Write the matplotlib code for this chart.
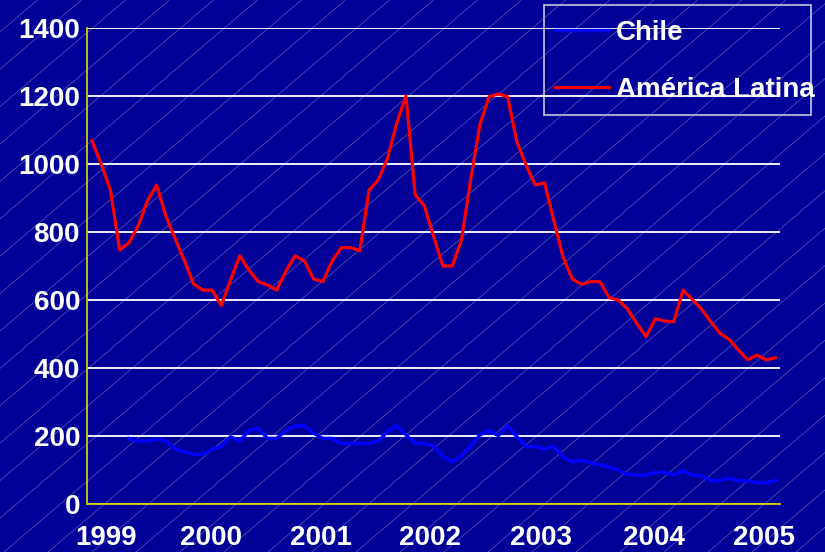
import numpy as np
import matplotlib
matplotlib.use('Agg')
import matplotlib.pyplot as plt
from matplotlib.patches import Rectangle

# monthly values, starting early 1999
america_latina = [1068, 1000, 923, 747, 768, 818, 891, 938, 847, 781,
                  716, 647, 629, 629, 584, 658, 730, 688, 654, 644,
                  629, 685, 730, 715, 662, 654, 715, 754, 754, 745,
                  923, 953, 1017, 1120, 1200, 909, 876, 786, 700, 700,
                  776, 953, 1115, 1198, 1206, 1198, 1066, 997, 938, 945,
                  835, 727, 662, 646, 654, 654, 607, 600, 573, 531,
                  492, 545, 538, 536, 629, 602, 573, 536, 502, 484,
                  453, 424, 438, 424, 430]
chile = [np.nan] * 4 + [193, 185, 185, 191, 185, 162, 154, 146, 146, 161,
                        169, 198, 185, 216, 223, 193, 193, 216, 230, 230,
                        208, 193, 193, 178, 178, 178, 178, 185, 213, 230,
                        203, 178, 178, 171, 139, 124, 141, 171, 203, 216,
                        201, 230, 198, 169, 169, 162, 169, 139, 124, 129,
                        121, 115, 108, 100, 87, 85, 85, 93, 93, 85,
                        98, 85, 83, 69, 69, 76, 69, 68, 63, 63, 69]
years = ['1999', '2000', '2001', '2002', '2003', '2004', '2005']
year_pos = [1.5, 12.9, 24.8, 36.6, 48.6, 60.8, 72.8]

bg = '#000099'
plt.rcParams['font.family'] = ['Liberation Sans', 'DejaVu Sans']
plt.rcParams['font.weight'] = 'bold'

fig = plt.figure(figsize=(8.25, 5.52), dpi=100, facecolor=bg)

# diagonal stripes on the background
deco = fig.add_axes([0, 0, 1, 1], zorder=-1)
deco.set_xlim(0, 825)
deco.set_ylim(552, 0)
deco.axis('off')
for x0 in np.arange(-700, 825, 44):
    deco.plot([x0, x0 + 700], [552, 552 - 700 * 0.85], color='#9a9acc',
              lw=0.5, alpha=0.6)
# legend frame (text runs a bit past it, like the original)
deco.add_patch(Rectangle((544, 5), 267, 110, fill=False, ec='#c8c8e0', lw=1.2))

ax = fig.add_axes([87 / 825, 1 - 504 / 552, (780 - 87) / 825, (504 - 28) / 552])
ax.patch.set_alpha(0)

x = np.arange(len(america_latina))
ax.plot(x, chile, color='#0000ff', lw=2.4, label='Chile')
ax.plot(x, america_latina, color='#ff0000', lw=2.3, label='América Latina')

ax.set_xlim(-0.54, 74.5)
ax.set_ylim(0, 1400)
ax.set_yticks(range(0, 1401, 200))
ax.set_xticks(year_pos)
ax.set_xticklabels(years)
ax.grid(axis='y', color='white', lw=1.3)
ax.set_axisbelow(True)
ax.tick_params(axis='both', length=0, colors='white', labelsize=20)
ax.tick_params(axis='x', pad=15)
ax.tick_params(axis='y', pad=5)
for s in ['top', 'right']:
    ax.spines[s].set_visible(False)
for s in ['left', 'bottom']:
    ax.spines[s].set_color('#d4cc00')
    ax.spines[s].set_linewidth(1.3)

leg = ax.legend(loc='upper left', bbox_to_anchor=(555 / 825, 1 - 20 / 552),
                bbox_transform=fig.transFigure, frameon=False, fontsize=20,
                labelcolor='white', handlelength=1.95, handletextpad=0.25,
                labelspacing=1.12, borderpad=0, borderaxespad=0)

fig.savefig('out.png', dpi=100, facecolor=bg)
